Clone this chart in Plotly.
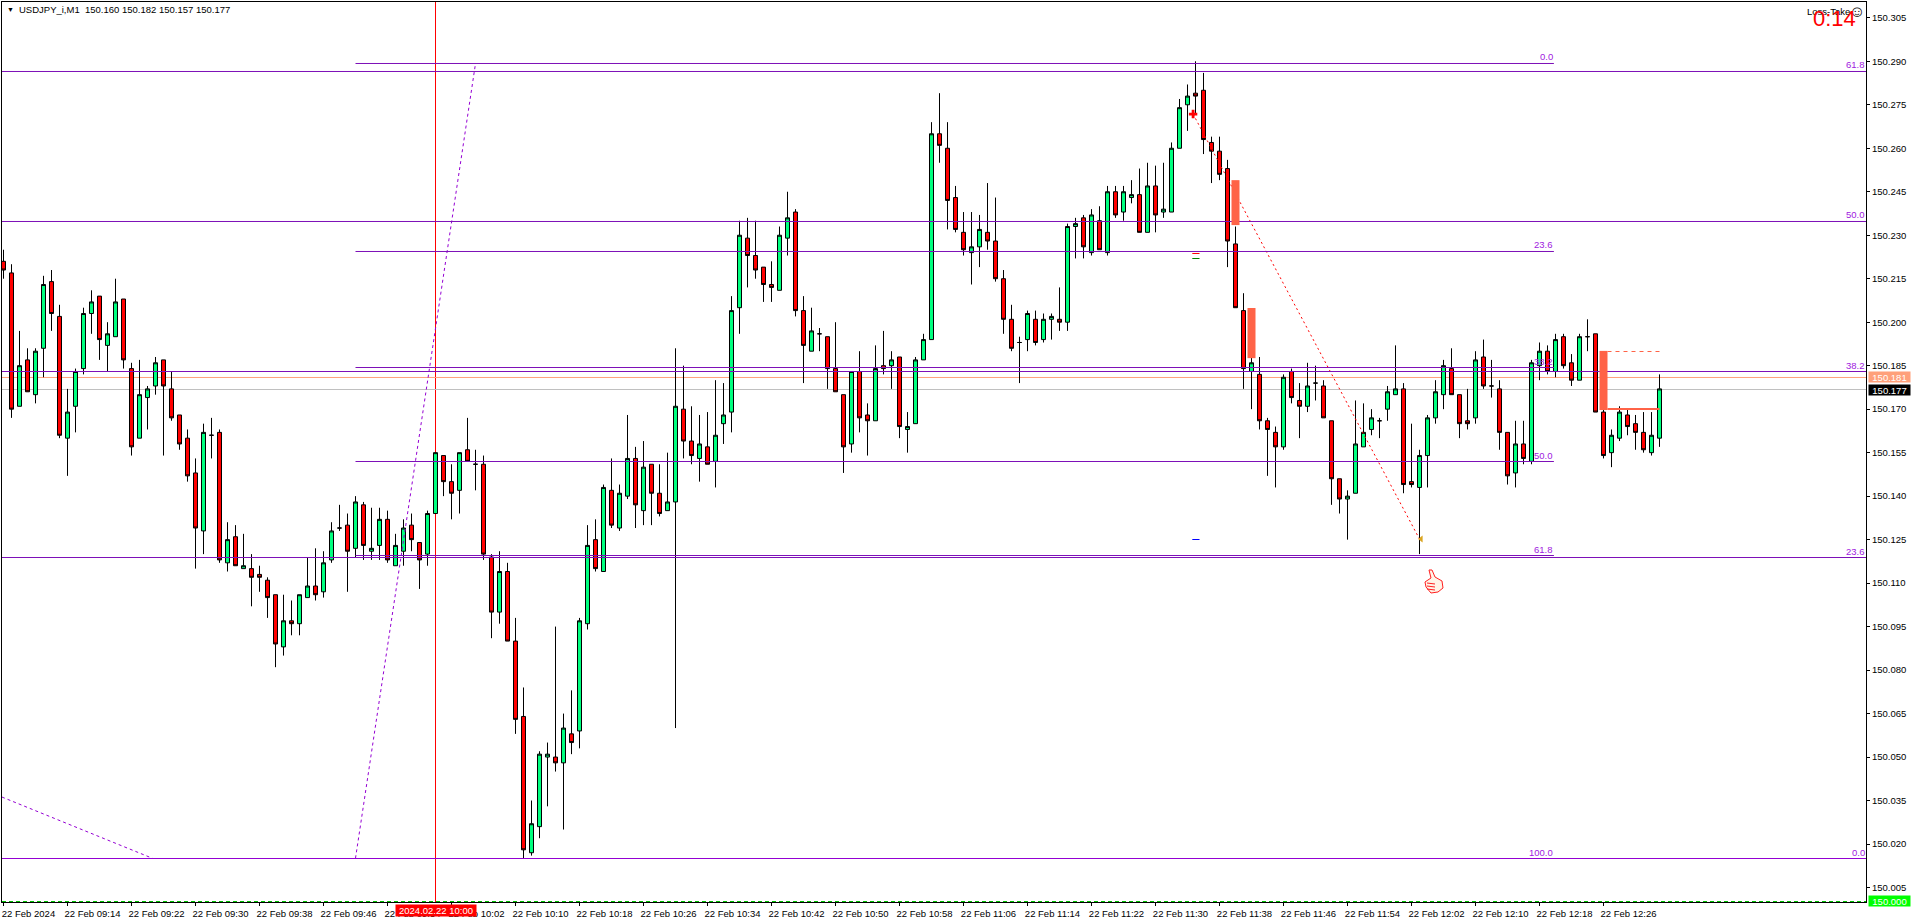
import plotly.graph_objects as go

# prices in thousandths above 150.000
BASE = 150.0
open_pts = [
221,217,171,187,175,191,214,202,160,171,
184,203,209,192,195,208,184,160,174,178,
187,177,168,160,148,128,161,162,117,126,
115,115,113,111,106,88,97,96,105,109,
107,118,129,130,122,137,121,123,132,116,
121,130,124,120,134,154,145,142,156,151,
151,119,100,114,90,64,17,26,50,50,
48,58,59,96,125,114,142,129,140,153,
135,151,141,135,138,170,159,153,157,152,
165,169,205,229,223,219,213,211,229,238,
204,190,196,195,184,175,158,183,168,166,
185,185,188,163,165,187,194,265,260,243,
231,224,226,231,228,215,201,193,194,201,
194,201,201,200,233,236,224,235,224,245,
238,243,244,231,247,238,238,260,275,279,
280,262,259,253,227,204,183,182,166,162,
157,183,173,171,179,178,166,146,139,141,
157,163,166,170,175,177,145,143,154,167,
175,184,175,166,167,188,178,177,162,148,
158,152,185,190,183,195,186,180,195,196,
169,155,160,168,165,162,155,160]
high_pts = [
225,220,197,191,191,216,218,206,177,184,
205,211,209,200,215,208,186,187,178,188,
187,183,168,163,153,165,167,163,131,130,
127,120,116,112,106,106,104,106,119,122,
121,131,137,134,140,138,136,136,135,127,
132,134,124,135,155,154,151,155,167,156,
154,120,121,117,98,74,35,52,55,95,
65,73,98,130,132,144,153,144,168,157,
159,151,151,155,191,185,171,168,169,180,
179,209,235,236,235,219,221,233,245,239,
209,205,198,195,200,175,183,190,172,192,
197,190,188,169,188,196,269,279,269,247,
238,238,237,248,243,218,206,195,204,204,
203,203,212,234,236,237,239,240,247,247,
247,249,253,255,254,255,262,277,282,290,
286,264,264,256,233,210,188,188,167,164,
182,184,179,186,185,180,166,146,142,173,
172,170,167,178,192,179,165,156,168,180,
187,191,175,177,190,194,187,180,162,166,
166,187,193,192,196,196,189,196,201,196,
171,163,171,170,168,169,169,182]
low_pts = [
215,167,171,176,172,181,197,160,147,162,
182,196,187,183,195,184,154,160,163,175,
154,166,156,145,115,120,153,117,114,116,
115,102,107,98,81,85,92,92,105,104,
105,117,128,107,119,118,118,118,117,116,
116,121,108,116,134,140,132,134,152,142,
118,91,96,90,58,15,16,22,33,45,
25,51,53,94,114,114,129,128,139,129,
130,130,133,135,60,153,151,145,151,143,
158,162,196,212,215,207,207,211,223,202,
179,190,190,177,176,148,155,162,154,166,
182,177,160,155,165,187,194,255,232,231,
223,213,219,225,214,196,190,179,190,192,
193,194,197,197,222,222,223,225,223,236,
235,241,231,231,231,236,238,260,266,272,
258,248,249,219,205,177,170,163,147,143,
156,172,160,169,173,167,137,134,125,141,
157,161,160,166,175,141,143,120,143,165,
170,175,160,163,165,177,174,156,144,143,
151,151,180,182,181,184,178,180,190,169,
153,150,159,161,156,155,154,157]
close_pts = [
218,170,185,176,190,213,203,161,169,183,
203,207,194,196,207,187,157,175,177,186,
178,167,158,147,129,162,161,118,125,116,
116,112,112,105,89,97,96,106,109,106,
117,128,129,121,138,123,122,132,118,123,
129,125,118,134,155,145,141,155,152,151,
120,100,114,90,63,18,27,51,51,48,
60,55,97,123,115,143,130,141,153,137,
150,141,134,138,171,159,154,158,151,161,
168,204,230,223,218,213,212,230,236,204,
192,197,196,184,176,157,183,167,166,184,
184,187,164,164,187,194,265,261,242,232,
225,226,232,228,215,201,191,193,203,193,
201,202,200,233,234,226,237,225,245,237,
245,244,231,247,237,239,260,274,278,278,
263,259,251,228,205,184,186,166,163,157,
181,174,171,178,179,167,146,139,140,158,
162,167,166,176,177,144,144,154,167,176,
185,175,165,165,187,178,178,162,147,158,
153,186,190,183,194,185,180,195,195,169,
154,161,169,164,162,156,161,177]

price_ticks = [150.005 + 0.015 * k for k in range(21)]
time_tick_idx = list(range(0, 201, 8))
time_tick_text = ["22 Feb 2024"] + [
    "22 Feb %02d:%02d" % ((9 * 60 + 6 + i) // 60, (9 * 60 + 6 + i) % 60) for i in time_tick_idx[1:]]

# Fibonacci levels (label, level in points)
fib_full = [("61.8", 286.48), ("50.0", 234.74), ("38.2", 182.99), ("23.6", 118.83), ("0.0", 15.005)]
fib_short = [("0.0", 289.24), ("23.6", 224.39), ("38.2", 184.37), ("50.0", 151.95), ("61.8", 119.52), ("100.0", 15.005)]
fib_short_span = (44, 193.8)

# trend lines: (index, points)
trend_a = ([44, 59], [15.1, 289.2])
trend_b = ([-0.19, 18.6], [36.2, 15.1])
trend_c = ([148.7, 177.0], [271.8, 125.2])

# tomato blocks: (candle index, top, bottom)
blocks = [(154, 249.0, 233.5), (156, 204.9, 187.6), (200, 190.1, 169.7)]
stop_level = 170.06
target_level = 189.89

bid_level, last_level, floor_level = 180.93, 176.78, 0.172
cursor_idx = 54
small_marks = [(223.70, "#ff0000"), (221.97, "#008000"), (125.04, "#0000ff")]

PURPLE = "#7d10b8"
PURPLE2 = "#9400d3"
LABEL = "#a020e0"
TOMATO = "#ff6347"
FONT = "Liberation Sans"
FS = 9.5

W, H = 1912, 923
L, R, T, B = 2, 1866, 2, 902
def P(v):
    return BASE + v / 1000.0
xlim = [(L - 3.5) / 8, (R - 3.5) / 8]
ylim = [BASE, BASE + (B - T) / 2899.0]
def px(x): return (x - L) / (R - L)
def py(y): return (B - y) / (B - T)

idx = list(range(len(open_pts)))
fig = go.Figure()
fig.add_trace(go.Candlestick(
    x=idx, open=[P(v) for v in open_pts], high=[P(v) for v in high_pts],
    low=[P(v) for v in low_pts], close=[P(v) for v in close_pts],
    increasing=dict(line=dict(color="#000000", width=1), fillcolor="#00ff7f"),
    decreasing=dict(line=dict(color="#000000", width=1), fillcolor="#ff0000"),
    whiskerwidth=0, showlegend=False, hoverinfo="skip"))

for (xs, ys), col, dash in ((trend_a, "#9400d3", "3px,3px"), (trend_b, "#9400d3", "3px,3px"), (trend_c, "#ff0000", "2px,3px")):
    fig.add_trace(go.Scatter(x=xs, y=[P(v) for v in ys], mode="lines", showlegend=False, hoverinfo="skip",
                             line=dict(color=col, width=1, dash=dash)))
fig.add_trace(go.Scatter(x=[trend_c[0][0]], y=[P(trend_c[1][0])], mode="markers", showlegend=False, hoverinfo="skip",
                         marker=dict(symbol="cross", size=7, color="#ff0000", line=dict(width=0))))
fig.add_trace(go.Scatter(x=[trend_c[0][1] + 0.2], y=[P(trend_c[1][1])], mode="markers", showlegend=False, hoverinfo="skip",
                         marker=dict(symbol="triangle-left", size=6, color="#daa520", line=dict(width=0))))

shapes = []
def hline(x0, x1, v, color, width=1, dash="solid", layer="above"):
    shapes.append(dict(type="line", xref="x", yref="y", x0=x0, x1=x1, y0=P(v), y1=P(v), layer=layer,
                       line=dict(color=color, width=width, dash=dash)))

hline(xlim[0], xlim[1], bid_level, "#ffa07a", layer="below")
hline(xlim[0], xlim[1], last_level, "#c0c0c0", layer="below")
hline(xlim[0], xlim[1], floor_level, "#00c000", dash="4px,3px")
shapes.append(dict(type="line", xref="x", yref="paper", x0=cursor_idx, x1=cursor_idx, y0=0, y1=1, layer="below",
                   line=dict(color="#ff0000", width=1)))
for name, v in fib_full:
    hline(xlim[0], xlim[1], v, PURPLE2 if name == "0.0" else PURPLE)
for name, v in fib_short:
    hline(fib_short_span[0], fib_short_span[1], v, PURPLE2 if name == "100.0" else PURPLE)
for i, top, bot in blocks:
    shapes.append(dict(type="rect", xref="x", yref="y", x0=i - 0.5, x1=i + 0.5, y0=P(bot), y1=P(top),
                       fillcolor=TOMATO, line=dict(width=0), layer="above"))
hline(200.5, 207, stop_level, TOMATO, width=2)
hline(200.5, 207, target_level, TOMATO, dash="4px,4px")
for v, col in small_marks:
    hline(148.6, 149.5, v, col)

# thumb icon
thumb = [(1429, 570), (1432, 570), (1435, 577), (1442, 581), (1443, 588), (1438, 592), (1431, 593), (1426, 587), (1425, 582), (1431, 578)]
path = "M " + " L ".join("%.5f,%.5f" % (px(x), py(y)) for x, y in thumb) + " Z"
shapes.append(dict(type="path", xref="paper", yref="paper", path=path, fillcolor="#fff4e8", line=dict(color="#ff2020", width=1)))
for y in (583, 586, 589):
    shapes.append(dict(type="line", xref="paper", yref="paper", x0=px(1427), x1=px(1435), y0=py(y), y1=py(y + 1),
                       line=dict(color="#ff2020", width=1)))

ann = []
def note(text, x, y, xref="paper", yref="paper", xanchor="left", yanchor="middle", color="#000000", size=FS, **kw):
    ann.append(dict(text=text, x=x, y=y, xref=xref, yref=yref, xanchor=xanchor, yanchor=yanchor, showarrow=False,
                    font=dict(family=FONT, size=size, color=color), borderpad=0, **kw))

for name, v in fib_full:
    note(name, 1, P(v), yref="y", xanchor="right", yanchor="bottom", color=LABEL, yshift=0)
for name, v in fib_short:
    note(name, fib_short_span[1], P(v), xref="x", yref="y", xanchor="right", yanchor="bottom", color=LABEL, yshift=0)

note("USDJPY_i,M1  150.160 150.182 150.157 150.177", px(18), py(10))
note("\u25bc", px(6), py(10), size=7)
note("Loss-Take", px(1806), py(11))
note("\u263a", px(1848), py(12), size=16)
note("0:14", px(1812), py(19), color="#ff0000", size=22)

def tag(text, v, bg, yshift=0):
    note(text, px(1868), P(v), yref="y", color="#ffffff", bgcolor=bg, width=41, height=10, align="center",
         yshift=yshift)
tag("150.181", bid_level, "#ffa07a")
tag("150.177", last_level, "#000000")
tag("150.000", 0, "#00ff00", yshift=1)
note("2024.02.22 10:00", cursor_idx, -0.0095, xref="x", xanchor="center", color="#ffffff", bgcolor="#ff0000",
     width=80, height=11, align="center")

fig.update_layout(
    width=W, height=H, margin=dict(l=L, r=W - R, t=T, b=H - B, pad=0), autosize=False,
    paper_bgcolor="#ffffff", plot_bgcolor="#ffffff", hovermode=False, showlegend=False, dragmode=False,
    boxgap=2 / 7, shapes=shapes, annotations=ann, font=dict(family=FONT, size=FS, color="#000000"),
    xaxis=dict(range=xlim, rangeslider=dict(visible=False), showgrid=False, zeroline=False,
               tickmode="array", tickvals=time_tick_idx, ticktext=time_tick_text, ticks="outside", ticklen=3,
               tickcolor="#000000", tickwidth=1, showline=True, mirror=True, linecolor="#000000", linewidth=1,
               ticklabelshift=25, tickangle=0, tickfont=dict(family=FONT, size=FS, color="#000000")),
    yaxis=dict(range=ylim, side="right", showgrid=False, zeroline=False, tickmode="array",
               tickvals=price_ticks, ticktext=["%.3f" % v for v in price_ticks], ticks="outside", ticklen=3,
               tickcolor="#000000", tickwidth=1, showline=True, mirror=True, linecolor="#000000", linewidth=1,
               tickfont=dict(family=FONT, size=FS, color="#000000")),
)
fig.write_html("out.html", config=dict(displayModeBar=False, staticPlot=True),
               post_script="document.body.style.margin='0';document.body.style.overflow='hidden';")
